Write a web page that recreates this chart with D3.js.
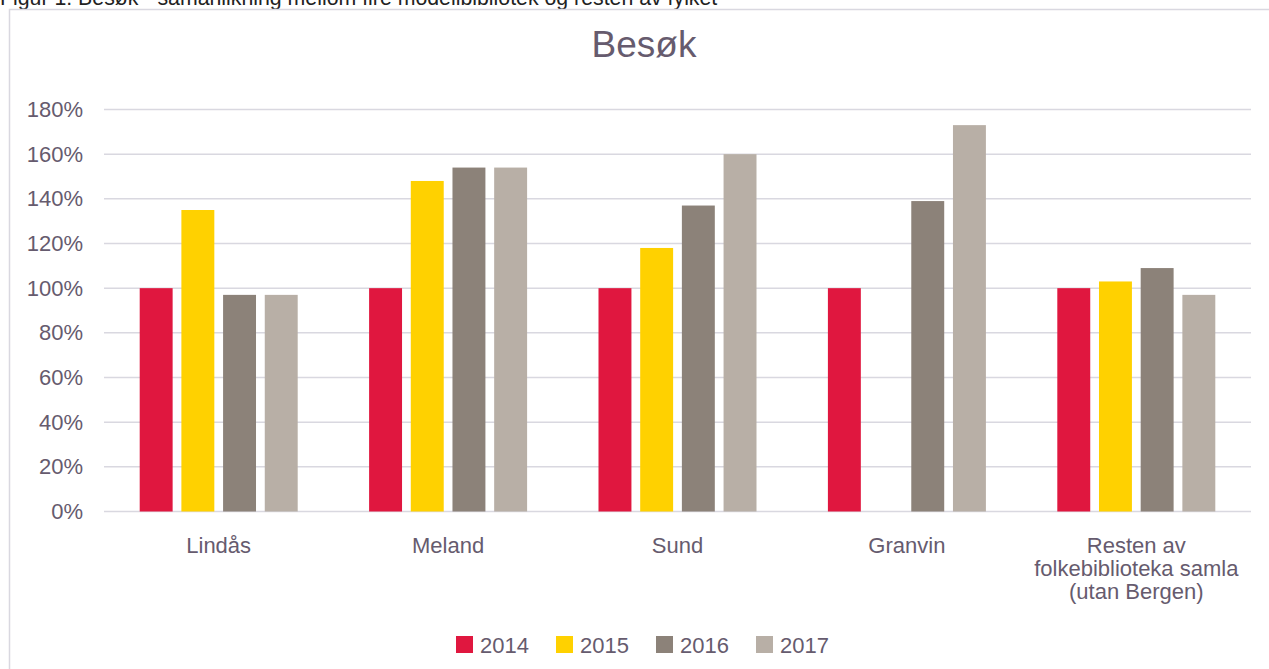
<!DOCTYPE html>
<html>
<head>
<meta charset="utf-8">
<script src="https://cdn.jsdelivr.net/npm/d3@7"></script>
<style>
  body { margin: 0; background: #fff; }
  text { font-family: "Liberation Sans", Arial, sans-serif; }
</style>
</head>
<body>
<div id="chart"></div>
<script>
////////////////////////////////////////////////////////////////////////
// Data

let categories = ["Lindås", "Meland", "Sund", "Granvin",
  "Resten av\nfolkebiblioteka samla\n(utan Bergen)"];
let years = ["2014", "2015", "2016", "2017"];
let v2014 = [100, 100, 100, 100, 100];
let v2015 = [135, 148, 118, null, 103];
let v2016 = [97, 154, 137, 139, 109];
let v2017 = [97, 154, 160, 173, 97];
let yTicks = [0, 20, 40, 60, 80, 100, 120, 140, 160, 180];
let colours = ["#E0173F", "#FFD100", "#8C8279", "#B8AFA6"];

let series = [v2014, v2015, v2016, v2017];

////////////////////////////////////////////////////////////////////////
// Setup

let width = 1269, height = 669;
let textColour = "#665B6E";
let gridColour = "#D9D8E0";

let svg = d3.select("#chart").append("svg")
  .attr("width", width)
  .attr("height", height);

// caption above the chart box (clipped by the top of the page)
svg.append("text")
  .attr("x", 0)
  .attr("y", 5)
  .attr("font-size", 21.3)
  .attr("fill", "#222")
  .text("Figur 1: Besøk - samanlikning mellom fire modellbibliotek og resten av fylket");

// chart box
svg.append("rect")
  .attr("x", 9.5).attr("y", 9.5)
  .attr("width", 1400).attr("height", 800)
  .attr("fill", "#fff")
  .attr("stroke", gridColour)
  .attr("stroke-width", 1.5);

svg.append("text")
  .attr("x", 644)
  .attr("y", 57)
  .attr("text-anchor", "middle")
  .attr("font-size", 37)
  .attr("fill", textColour)
  .text("Besøk");

let x0 = d3.scaleBand().domain(categories).range([104, 1251]);
let groupW = 158;
let x1 = d3.scaleBand().domain(years)
  .range([(x0.bandwidth() - groupW) / 2, (x0.bandwidth() + groupW) / 2])
  .paddingInner(0.21);
let y = d3.scaleLinear().domain([0, 180]).range([511.5, 109.5]);

// gridlines
svg.append("g")
  .selectAll("line")
  .data(yTicks)
  .enter()
  .append("line")
  .attr("x1", 104).attr("x2", 1251)
  .attr("y1", d => y(d)).attr("y2", d => y(d))
  .attr("stroke", gridColour)
  .attr("stroke-width", 1.5);

// y axis labels
let yAxis = svg.append("g")
  .attr("transform", "translate(104,0)")
  .call(d3.axisLeft(y).tickValues(yTicks).tickFormat(d => d + "%").tickSize(0).tickPadding(21));
yAxis.select(".domain").remove();
yAxis.selectAll("text")
  .attr("font-size", 22)
  .attr("font-family", "Liberation Sans, Arial, sans-serif")
  .attr("fill", textColour);

// bars
let groups = svg.append("g")
  .selectAll("g")
  .data(categories)
  .enter()
  .append("g")
  .attr("transform", d => "translate(" + x0(d) + ",0)");

groups.selectAll("rect")
  .data((d, i) => years.map((yr, j) => ({ year: yr, value: series[j][i], colour: colours[j] })))
  .enter()
  .filter(d => d.value != null)
  .append("rect")
  .attr("x", d => x1(d.year))
  .attr("width", x1.bandwidth())
  .attr("y", d => y(d.value))
  .attr("height", d => y(0) - y(d.value))
  .attr("fill", d => d.colour);

// category labels
groups.append("text")
  .attr("text-anchor", "middle")
  .attr("font-size", 22)
  .attr("fill", textColour)
  .selectAll("tspan")
  .data(d => d.split("\n"))
  .enter()
  .append("tspan")
  .attr("x", x0.bandwidth() / 2)
  .attr("y", (d, i) => 553 + i * 23)
  .text(d => d);

// legend
let legend = svg.append("g")
  .selectAll("g")
  .data(years)
  .enter()
  .append("g")
  .attr("transform", (d, i) => "translate(" + (456 + i * 100) + ",636)");

legend.append("rect")
  .attr("width", 17).attr("height", 17)
  .attr("fill", (d, i) => colours[i]);

legend.append("text")
  .attr("x", 24)
  .attr("y", 17)
  .attr("font-size", 22)
  .attr("fill", textColour)
  .text(d => d);
</script>
</body>
</html>
